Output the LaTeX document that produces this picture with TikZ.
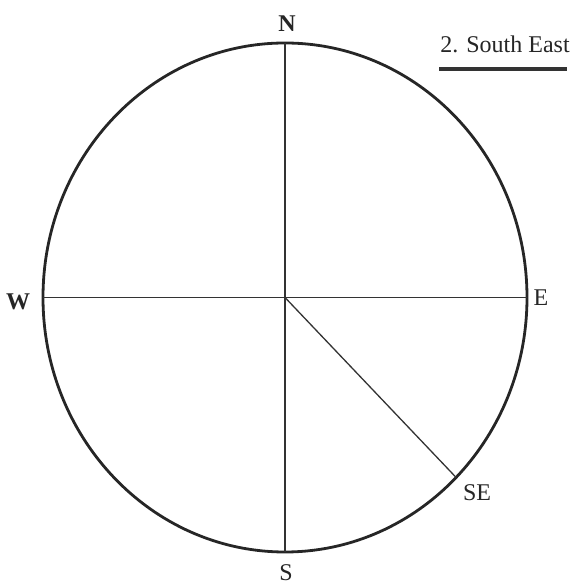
\documentclass[tikz,border=0pt]{standalone}
\usepackage{fontspec}
\setmainfont{Liberation Serif}
\usetikzlibrary{calc}
\begin{document}
\begin{tikzpicture}[x=1pt,y=1pt,
  rim/.style={draw=black!85,line width=2.8pt},
  axis/.style={draw=black!80,line width=1.3pt},
  lbl/.style={font=\fontsize{24}{26}\selectfont,text=black!85,inner sep=0pt},
  blbl/.style={lbl,font=\fontsize{24}{26}\selectfont\bfseries}]
\useasboundingbox (0,0) rectangle (575,586);
\coordinate (c) at (285,288.5);
\coordinate (n) at (285,543);
\coordinate (s) at (285,34);
\coordinate (w) at (43,288.5);
\coordinate (e) at (527,288.5);
\coordinate (se) at ($(c)+(-45:242 and 254.5)$);
\draw[rim] (c) ellipse [x radius=242, y radius=254.5];
\draw[axis] (n) -- (s);
\draw[axis] (w) -- (e);
\draw[axis] (c) -- (se);
\node[blbl] (ln) at (287,562) {N};
\node[blbl] (lw) at (18,284) {W};
\node[lbl] (le) at (541,288) {E};
\node[lbl] (ls) at (286,13) {S};
\node[lbl] (lse) at (477,93) {SE};
\node[lbl,anchor=base,font=\fontsize{24}{26}\selectfont] (title) at (505,533) {2. South East};
\coordinate (u1) at (439,517);
\coordinate (u2) at (567,517);
\draw[draw=black!80,line width=4pt] (u1) -- (u2);
\end{tikzpicture}
\end{document}
